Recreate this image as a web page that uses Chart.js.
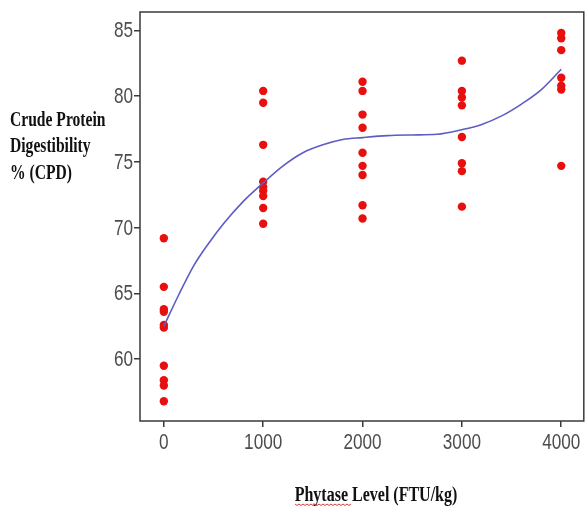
<!DOCTYPE html>
<html>
<head>
<meta charset="utf-8">
<script src="https://cdn.jsdelivr.net/npm/chart.js@4"></script>
<style>
    html, body { margin: 0; padding: 0; background: #fff; }
    #wrap { width: 588px; height: 506px; }
</style>
</head>
<body>
<div id="wrap"><canvas id="cpd-chart" width="588" height="506"></canvas></div>
<script>
// Fytasenivå (FTU/kg) og målt CPD for hver prøve
const phytaseLevels = [0, 1000, 2000, 3000, 4000];
const cpd0    = [69.2, 65.5, 63.8, 63.6, 62.6, 62.4, 59.5, 58.4, 58.0, 56.8];
const cpd1000 = [80.4, 79.5, 76.3, 73.5, 73.1, 72.8, 72.4, 71.5, 70.3];
const cpd2000 = [81.1, 80.4, 78.6, 77.6, 75.7, 74.7, 74.0, 71.7, 70.7];
const cpd3000 = [82.7, 80.4, 79.9, 79.3, 76.9, 74.9, 74.3, 71.6];
const cpd4000 = [84.8, 84.4, 83.5, 81.4, 80.8, 80.5, 74.7];

// Utjevnet kurve (lest av bildet)
const curveX = [0, 150, 300, 450, 600, 800, 1000, 1200, 1400, 1600, 1800, 2000, 2250, 2500, 2750, 3000, 3200, 3400, 3600, 3800, 4000];
const curveY = [62.5, 64.9, 67.1, 68.8, 70.3, 72.0, 73.4, 74.7, 75.7, 76.3, 76.7, 76.85, 77.0, 77.05, 77.1, 77.45, 77.85, 78.5, 79.4, 80.5, 82.05];

// Akseverdier
const xTicks = [0, 1000, 2000, 3000, 4000];
const yTicks = [60, 65, 70, 75, 80, 85];

const yTitleLines = ['Crude Protein', 'Digestibility', '% (CPD)'];
const xTitle = 'Phytase Level (FTU/kg)';

// Bygg punktdata
const groups = [cpd0, cpd1000, cpd2000, cpd3000, cpd4000];
const points = [];
groups.forEach((vals, i) => {
    vals.forEach(v => points.push({ x: phytaseLevels[i], y: v }));
});
const curve = curveX.map((x, i) => ({ x: x, y: curveY[i] }));

const tickFont = "22px 'Liberation Sans', Arial, sans-serif";

// Smal tekst (skalert horisontalt)
function narrowText(ctx, text, x, y, sx, align) {
    ctx.save();
    ctx.translate(x, y);
    ctx.scale(sx, 1);
    ctx.textAlign = align;
    ctx.fillText(text, 0, 0);
    ctx.restore();
}

// Ramme, tallverdier og aksetitler
const framePlugin = {
    id: 'frame',
    afterDraw(chart) {
        const ctx = chart.ctx;
        const a = chart.chartArea;
        const xs = chart.scales.x;
        const ys = chart.scales.y;
        ctx.save();
        ctx.strokeStyle = '#3a3a3a';
        ctx.lineWidth = 1.5;
        ctx.strokeRect(a.left, a.top, a.right - a.left, a.bottom - a.top);

        // tallverdier på aksene
        ctx.fillStyle = '#4d4d4d';
        ctx.font = tickFont;
        ctx.textBaseline = 'middle';
        yTicks.forEach(v => narrowText(ctx, String(v), a.left - 7, ys.getPixelForValue(v) + 1, 0.78, 'right'));
        ctx.textBaseline = 'top';
        xTicks.forEach(v => narrowText(ctx, String(v), xs.getPixelForValue(v), a.bottom + 11, 0.78, 'center'));

        ctx.fillStyle = '#111';
        ctx.font = "bold 20px 'Liberation Serif', 'DejaVu Serif', serif";
        ctx.textBaseline = 'alphabetic';
        const baselines = [126, 152, 179];
        yTitleLines.forEach((line, i) => narrowText(ctx, line, 10, baselines[i], 0.78, 'left'));
        narrowText(ctx, xTitle, 376, 501, 0.8, 'center');

        // rød bølgestrek under "Phytase"
        ctx.strokeStyle = '#d04040';
        ctx.lineWidth = 1;
        ctx.beginPath();
        for (let x = 295, k = 0; x <= 352; x += 2, k++) {
            const y = 504 + (k % 2 === 0 ? 0 : 1.5);
            if (k === 0) ctx.moveTo(x, y); else ctx.lineTo(x, y);
        }
        ctx.stroke();
        ctx.restore();
    }
};

new Chart(document.getElementById('cpd-chart').getContext('2d'), {
    type: 'scatter',
    data: {
        datasets: [
            {
                label: 'Utjevnet',
                data: curve,
                showLine: true,
                borderColor: 'rgb(92, 92, 196)',
                borderWidth: 1.6,
                pointRadius: 0,
                cubicInterpolationMode: 'monotone',
                fill: false,
                order: 0
            },
            {
                label: 'CPD',
                data: points,
                backgroundColor: '#e8100f',
                borderWidth: 0,
                pointRadius: 4.2,
                order: 1
            }
        ]
    },
    options: {
        responsive: false,
        animation: false,
        layout: { padding: { left: 0, top: 12, right: 1, bottom: 0 } },
        plugins: {
            legend: { display: false },
            tooltip: { enabled: false }
        },
        scales: {
            x: {
                type: 'linear',
                min: -240,
                max: 4227,
                afterBuildTicks: scale => { scale.ticks = xTicks.map(v => ({ value: v })); },
                afterFit: scale => { scale.height = 85; },
                ticks: { display: false },
                grid: { drawOnChartArea: false, drawTicks: true, tickLength: 6, color: '#3a3a3a', lineWidth: 1.5 },
                border: { display: false }
            },
            y: {
                min: 55.3,
                max: 86.4,
                afterBuildTicks: scale => { scale.ticks = yTicks.map(v => ({ value: v })); },
                afterFit: scale => { scale.width = 140; },
                ticks: { display: false },
                grid: { drawOnChartArea: false, drawTicks: true, tickLength: 6, color: '#3a3a3a', lineWidth: 1.5 },
                border: { display: false }
            }
        }
    },
    plugins: [framePlugin]
});
</script>
</body>
</html>
